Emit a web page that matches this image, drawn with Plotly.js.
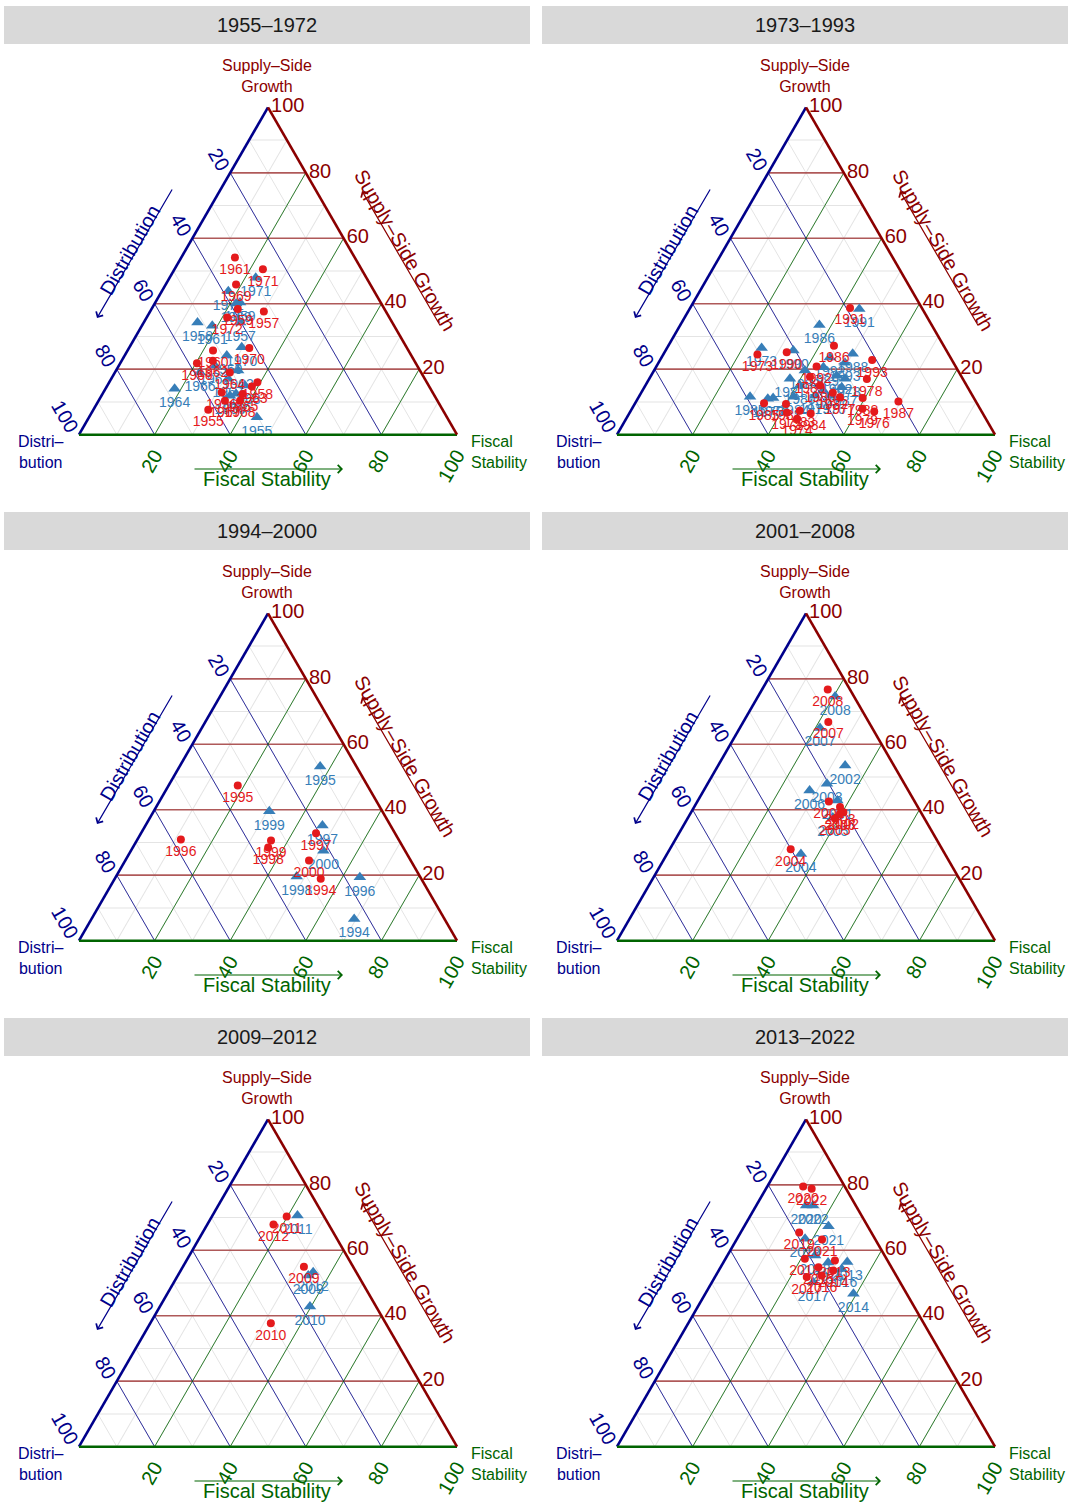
<!DOCTYPE html>
<html>
<head>
<meta charset="utf-8">
<script src="https://cdn.plot.ly/plotly-3.0.1.min.js"></script>
<style>html,body{margin:0;padding:0;background:#ffffff;}</style>
</head>
<body>
<div id="chart" style="width:1070px;height:1505px;"></div>
<script>
// Ternary composition of policy emphasis per period:
// Supply-Side Growth (top), Distribution (left), Fiscal Stability (right), in percent.

const periods = ['1955–1972', '1973–1993', '1994–2000', '2001–2008', '2009–2012', '2013–2022'];

// 1955–1972
const years1 = [1955,1956,1957,1958,1959,1960,1961,1962,1963,1964,1965,1966,1967,1968,1969,1970,1971,1972];
const redSupply1 = [7.6,12.9,37.6,16.0,38.4,25.7,54.1,22.6,14.7,19.0,12.4,21.8,10.4,10.4,45.9,26.5,50.5,35.8];
const redDist1   = [62.0,55.8,32.3,44.8,38.8,51.7,31.7,53.3,46.9,50.6,50.5,57.9,56.2,52.2,35.5,41.7,26.1,42.9];
const redFiscal1 = [30.4,31.3,30.1,39.2,22.8,22.6,14.2,24.1,38.4,30.4,37.1,20.3,33.4,37.4,18.6,31.8,23.4,21.3];
const blueSupply1 = [5.3,11.9,34.3,34.3,40.4,24.2,33.3,21.1,19.6,14.0,12.5,19.0,17.1,15.0,40.1,26.7,47.9,43.8];
const blueDist1   = [50.3,54.1,40.2,51.5,37.2,48.8,48.1,53.5,48.1,67.7,52.2,58.5,52.0,48.6,38.4,43.6,29.3,38.6];
const blueFiscal1 = [44.4,34.0,25.5,14.2,22.4,27.0,18.6,25.4,32.3,18.3,35.3,22.5,30.9,36.4,21.5,29.7,22.8,17.6];

// 1973–1993
const years2 = [1973,1974,1975,1976,1977,1978,1979,1980,1981,1982,1983,1984,1985,1986,1987,1988,1989,1990,1991,1992,1993];
const redSupply2 = [24.5,4.9,6.7,7.1,11.4,17.0,7.9,15.0,9.4,12.8,7.3,6.5,9.6,27.2,10.1,11.2,17.7,25.2,38.7,20.8,22.8];
const redDist2   = [50.6,49.9,51.7,28.4,35.3,25.4,31.1,38.8,50.6,36.5,48.0,45.5,56.3,29.0,20.5,29.4,40.1,42.5,19.0,36.8,21.1];
const redFiscal2 = [24.9,45.2,41.6,64.5,53.3,57.6,61.0,46.2,40.0,50.7,44.7,48.0,34.1,43.8,69.4,59.4,42.2,32.3,42.3,42.4,56.1];
const blueSupply2 = [26.5,11.2,11.0,11.9,13.5,17.1,11.9,15.0,17.1,18.0,19.6,11.6,11.6,33.5,14.5,24.7,20.6,25.7,38.4,23.6,22.0];
const blueDist2   = [48.5,53.1,54.6,37.7,38.7,31.1,41.7,44.1,45.7,32.9,40.5,47.4,59.0,29.7,33.3,25.3,35.1,40.5,16.7,31.9,28.7];
const blueFiscal2 = [25.0,35.7,34.4,50.4,47.8,51.8,46.4,40.9,37.2,49.1,39.9,41.0,29.4,36.8,52.2,50.0,44.3,33.8,44.9,44.5,49.3];

// 1994–2000
const years3 = [1994,1995,1996,1997,1998,1999,2000];
const redSupply3 = [18.9,47.4,30.9,32.8,28.5,30.6,24.5];
const redDist3   = [26.6,34.3,57.6,20.9,35.7,33.9,26.9];
const redFiscal3 = [54.5,18.3,11.5,46.3,35.8,35.5,48.6];
const blueSupply3 = [6.6,53.2,19.4,35.2,19.6,39.5,27.5];
const blueDist3   = [23.9,9.6,16.0,18.0,32.6,29.9,21.6];
const blueFiscal3 = [69.5,37.2,64.6,46.8,47.8,30.6,50.9];

// 2001–2008
const years4 = [2001,2002,2003,2004,2005,2006,2007,2008];
const redSupply4 = [42.5,39.2,40.8,27.9,37.3,38.8,66.8,76.7];
const redDist4   = [22.7,20.5,20.6,40.1,23.7,21.6,10.7,5.9];
const redFiscal4 = [34.8,40.3,38.6,32.0,39.0,39.6,22.5,17.4];
const blueSupply4 = [42.8,53.5,47.9,26.5,37.6,45.9,65.0,74.6];
const blueDist4   = [20.3,12.9,20.5,38.1,24.1,26.1,13.8,5.0];
const blueFiscal4 = [36.9,33.6,31.6,35.4,38.3,28.0,21.2,20.4];

// 2009–2012
const years5 = [2009,2010,2011,2012];
const redSupply5 = [55.0,37.7,70.3,67.9];
const redDist5   = [13.0,30.4,9.9,14.6];
const redFiscal5 = [32.0,31.9,19.8,17.5];
const blueSupply5 = [52.3,42.8,70.6,53.3];
const blueDist5   = [13.2,17.5,6.9,11.4];
const blueFiscal5 = [34.5,39.7,22.5,35.3];

// 2013–2022
const years6 = [2013,2014,2015,2016,2017,2018,2019,2020,2021,2022];
const redSupply6 = [56.9,53.8,54.8,52.3,51.8,57.4,65.4,79.5,63.3,78.8];
const redDist6   = [13.9,15.9,19.3,19.7,23.9,21.6,19.1,11.0,14.1,9.1];
const redFiscal6 = [29.2,30.3,25.9,28.0,24.3,21.0,15.5,9.5,22.6,12.1];
const blueSupply6 = [56.4,46.7,56.3,54.3,50.2,58.4,63.5,73.7,67.3,73.7];
const blueDist6   = [10.9,14.1,16.0,13.4,23.0,18.4,18.5,13.1,10.4,11.3];
const blueFiscal6 = [32.7,39.2,27.7,32.3,26.8,23.2,18.0,13.2,22.3,15.0];

// Axis tick positions (every 10 for the light grid) and labelled major values.
const tickPositions = [0,10,20,30,40,50,60,70,80,90,100];
const majorValues = [20,40,60,80];

const panels = [
  {years: years1, red: [redSupply1, redDist1, redFiscal1], blue: [blueSupply1, blueDist1, blueFiscal1]},
  {years: years2, red: [redSupply2, redDist2, redFiscal2], blue: [blueSupply2, blueDist2, blueFiscal2]},
  {years: years3, red: [redSupply3, redDist3, redFiscal3], blue: [blueSupply3, blueDist3, blueFiscal3]},
  {years: years4, red: [redSupply4, redDist4, redFiscal4], blue: [blueSupply4, blueDist4, blueFiscal4]},
  {years: years5, red: [redSupply5, redDist5, redFiscal5], blue: [blueSupply5, blueDist5, blueFiscal5]},
  {years: years6, red: [redSupply6, redDist6, redFiscal6], blue: [blueSupply6, blueDist6, blueFiscal6]}
];

const W = 1070, H = 1505;
const FONT = 'Liberation Sans, Arial, sans-serif';
const C_SUPPLY = '#8B0000', C_DIST = '#00008B', C_FISCAL = '#006400';
const C_RED = '#E41A1C', C_BLUE = '#377EB8';

// Edges read clockwise: each edge is labelled with the component it measures.
const tickText = tickPositions.map(v => (v % 20 === 0 && v !== 100) ? String(100 - v) : '');

const px = x => x / W;
const py = y => 1 - y / H;

const data = [];
const layout = {
  width: W, height: H,
  margin: {l: 0, r: 0, t: 0, b: 0},
  paper_bgcolor: '#ffffff',
  font: {family: FONT},
  showlegend: false,
  shapes: [],
  annotations: []
};

function axisDef(color, angle) {
  return {
    tickmode: 'array', tickvals: tickPositions, ticktext: tickText,
    tickangle: angle, ticks: '',
    tickfont: {size: 20, color: color, family: FONT},
    showline: true, linecolor: color, linewidth: 2.6,
    showgrid: true, gridcolor: '#E4E4E4', gridwidth: 1,
    title: {text: ''}
  };
}

panels.forEach((p, i) => {
  const col = i % 2, row = Math.floor(i / 2);
  const dx = col * 538, dy = row * 506;
  const sub = i === 0 ? 'ternary' : 'ternary' + (i + 1);

  layout[sub] = {
    sum: 100,
    bgcolor: '#ffffff',
    domain: {x: [px(79 + dx), px(457 + dx)], y: [py(435 + dy), py(107 + dy)]},
    aaxis: axisDef(C_DIST, 60),
    baxis: axisDef(C_FISCAL, -60),
    caxis: axisDef(C_SUPPLY, 0)
  };

  // Major grid lines for each component
  const gA = {a: [], b: [], c: []}, gB = {a: [], b: [], c: []}, gC = {a: [], b: [], c: []};
  majorValues.forEach(v => {
    gA.a.push(v, v, null);         gA.b.push(100 - v, 0, null);   gA.c.push(0, 100 - v, null);
    gB.a.push(100 - v, 0, null);   gB.b.push(v, v, null);         gB.c.push(0, 100 - v, null);
    gC.a.push(100 - v, 0, null);   gC.b.push(0, 100 - v, null);   gC.c.push(v, v, null);
  });
  [[gA, 'rgba(139,0,0,0.62)', 1.7], [gB, C_DIST, 0.8], [gC, C_FISCAL, 0.8]].forEach(([g, color, w]) => {
    data.push({
      type: 'scatterternary', subplot: sub, mode: 'lines',
      a: g.a, b: g.b, c: g.c, connectgaps: false,
      line: {color: color, width: w}, hoverinfo: 'skip'
    });
  });

  // Blue triangles with year labels
  data.push({
    type: 'scatterternary', subplot: sub, mode: 'markers+text', name: 'Blue',
    a: p.blue[0], b: p.blue[1], c: p.blue[2],
    text: p.years.map(String), textposition: 'bottom center',
    textfont: {size: 14, color: C_BLUE, family: FONT},
    marker: {symbol: 'triangle-up', size: 11, color: C_BLUE},
    cliponaxis: false
  });
  // Red circles with year labels
  data.push({
    type: 'scatterternary', subplot: sub, mode: 'markers+text', name: 'Red',
    a: p.red[0], b: p.red[1], c: p.red[2],
    text: p.years.map(String), textposition: 'bottom center',
    textfont: {size: 14, color: C_RED, family: FONT},
    marker: {symbol: 'circle', size: 8, color: C_RED},
    cliponaxis: false
  });

  // Panel strip
  layout.shapes.push({
    type: 'rect', xref: 'paper', yref: 'paper',
    x0: px(4 + dx), x1: px(530 + dx), y0: py(44 + dy), y1: py(6 + dy),
    fillcolor: '#D9D9D9', line: {width: 0}, layer: 'below'
  });
  const ann = layout.annotations;
  ann.push({xref: 'paper', yref: 'paper', x: px(267 + dx), y: py(25 + dy), text: periods[i],
    showarrow: false, xanchor: 'center', yanchor: 'middle',
    font: {size: 20, color: '#1A1A1A', family: FONT}});

  // Vertex titles
  ann.push({xref: 'paper', yref: 'paper', x: px(267 + dx), y: py(76 + dy), text: 'Supply–Side<br>Growth',
    showarrow: false, xanchor: 'center', yanchor: 'middle',
    font: {size: 16, color: C_SUPPLY, family: FONT}});
  ann.push({xref: 'paper', yref: 'paper', x: px(40 + dx), y: py(452 + dy), text: 'Distri–<br>bution',
    showarrow: false, xanchor: 'center', yanchor: 'middle',
    font: {size: 16, color: C_DIST, family: FONT}});
  ann.push({xref: 'paper', yref: 'paper', x: px(469 + dx), y: py(452 + dy), text: 'Fiscal<br>Stability',
    showarrow: false, xanchor: 'left', yanchor: 'middle', align: 'left',
    font: {size: 16, color: C_FISCAL, family: FONT}});

  // Edge labels with direction arrows
  ann.push({xref: 'paper', yref: 'paper', x: px(130 + dx), y: py(250 + dy), text: 'Distribution',
    showarrow: false, textangle: -60, xanchor: 'center', yanchor: 'middle',
    font: {size: 20, color: C_DIST, family: FONT}});
  ann.push({xref: 'paper', yref: 'paper', x: px(405 + dx), y: py(250 + dy), text: 'Supply–Side Growth',
    showarrow: false, textangle: 60, xanchor: 'center', yanchor: 'middle',
    font: {size: 20, color: C_SUPPLY, family: FONT}});
  ann.push({xref: 'paper', yref: 'paper', x: px(267 + dx), y: py(479 + dy), text: 'Fiscal Stability',
    showarrow: false, xanchor: 'center', yanchor: 'middle',
    font: {size: 20, color: C_FISCAL, family: FONT}});

  ann.push({xref: 'paper', yref: 'paper', x: px(97 + dx), y: py(318 + dy), text: '',
    showarrow: true, ax: 76, ay: -130, arrowhead: 4, arrowsize: 1.3, arrowwidth: 1.2, arrowcolor: C_DIST, standoff: 0});
  ann.push({xref: 'paper', yref: 'paper', x: px(362 + dx), y: py(191 + dy), text: '',
    showarrow: true, ax: 79, ay: 136, arrowhead: 4, arrowsize: 1.3, arrowwidth: 1.2, arrowcolor: C_SUPPLY, standoff: 0});
  ann.push({xref: 'paper', yref: 'paper', x: px(343 + dx), y: py(469 + dy), text: '',
    showarrow: true, ax: -150, ay: 0, arrowhead: 4, arrowsize: 1.3, arrowwidth: 1.2, arrowcolor: C_FISCAL, standoff: 0});
});

Plotly.newPlot('chart', data, layout, {staticPlot: true, displayModeBar: false});
</script>
</body>
</html>
